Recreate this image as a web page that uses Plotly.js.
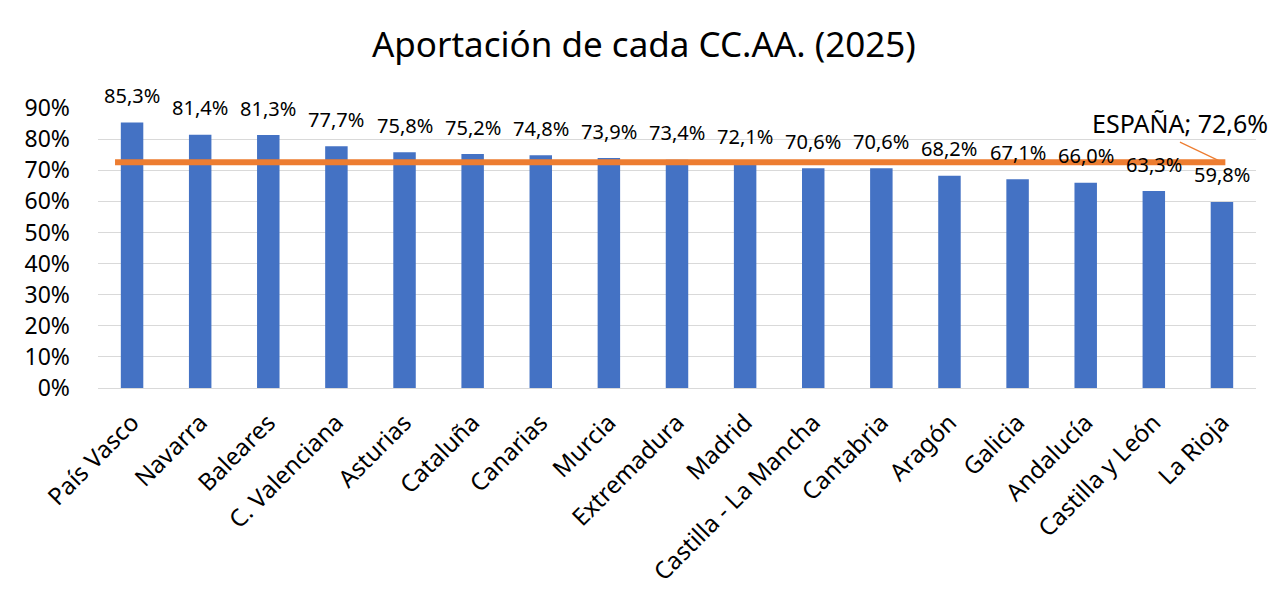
<!DOCTYPE html>
<html>
<head>
<meta charset="utf-8">
<script src="https://cdn.plot.ly/plotly-3.0.1.min.js"></script>
<style>html,body{margin:0;padding:0;background:#fff;}#chart{width:1280px;height:591px;}</style>
</head>
<body>
<div id="chart"></div>
<script>
const categories = ["País Vasco","Navarra","Baleares","C. Valenciana","Asturias","Cataluña","Canarias","Murcia","Extremadura","Madrid","Castilla - La Mancha","Cantabria","Aragón","Galicia","Andalucía","Castilla y León","La Rioja"];
const values = [85.3,81.4,81.3,77.7,75.8,75.2,74.8,73.9,73.4,72.1,70.6,70.6,68.2,67.1,66.0,63.3,59.8];
const spainLabel = "ESPAÑA";
const spainValue = 72.6;
const yTicks = [0,10,20,30,40,50,60,70,80,90];

const fmt = v => v.toFixed(1).replace('.', ',') + '%';
const FONT = "Noto Sans, Open Sans, sans-serif";

const labelAnns = categories.map((c, i) => ({
  x: c, y: values[i], xref: 'x', yref: 'y',
  text: fmt(values[i]), showarrow: false,
  yanchor: 'middle', yshift: 27,
  font: {family: FONT, size: 20, color: '#000'}
}));

const spainAnn = {
  x: categories[categories.length - 1], y: spainValue, xref: 'x', yref: 'y',
  text: spainLabel + '; ' + fmt(spainValue),
  showarrow: true, arrowhead: 0, arrowwidth: 1.2, arrowcolor: '#ED7D31',
  ax: -42, ay: -20, xanchor: 'center', yanchor: 'bottom',
  font: {family: FONT, size: 25, color: '#000'}
};

const trace = {
  type: 'bar', x: categories, y: values,
  marker: {color: '#4472C4'},
  hoverinfo: 'x+y'
};

const layout = {
  width: 1280, height: 591,
  margin: {l: 98, r: 24, t: 108, b: 203},
  paper_bgcolor: '#fff', plot_bgcolor: '#fff',
  bargap: 0.67,
  showlegend: false,
  title: {text: 'Aportación de cada CC.AA. (2025)', x: 0.503, xanchor: 'center',
          y: 1 - 45/591, yref: 'container', yanchor: 'middle',
          font: {family: FONT, size: 35, color: '#000'}},
  xaxis: {type: 'category', range: [-0.5, categories.length - 0.5], autorange: false,
          tickangle: -45, ticks: '', showgrid: false,
          showline: true, linecolor: '#D9D9D9', linewidth: 1,
          ticklabelstandoff: 10,
          tickfont: {family: FONT, size: 24, color: '#000'}},
  yaxis: {range: [0, 90], autorange: false, tickvals: yTicks, ticktext: yTicks.map(v => v + '%'),
          showgrid: true, gridcolor: '#D9D9D9', gridwidth: 1,
          zeroline: true, zerolinecolor: '#D9D9D9', zerolinewidth: 1,
          ticks: '', ticklabelstandoff: 27,
          tickfont: {family: FONT, size: 23, color: '#000'}},
  shapes: [{type: 'line', xref: 'x', yref: 'y', x0: -0.25, x1: categories.length - 0.95,
            y0: spainValue, y1: spainValue, line: {color: '#ED7D31', width: 6}}],
  annotations: labelAnns.concat([spainAnn])
};

Plotly.newPlot('chart', [trace], layout, {displayModeBar: false, staticPlot: true});
</script>
</body>
</html>
